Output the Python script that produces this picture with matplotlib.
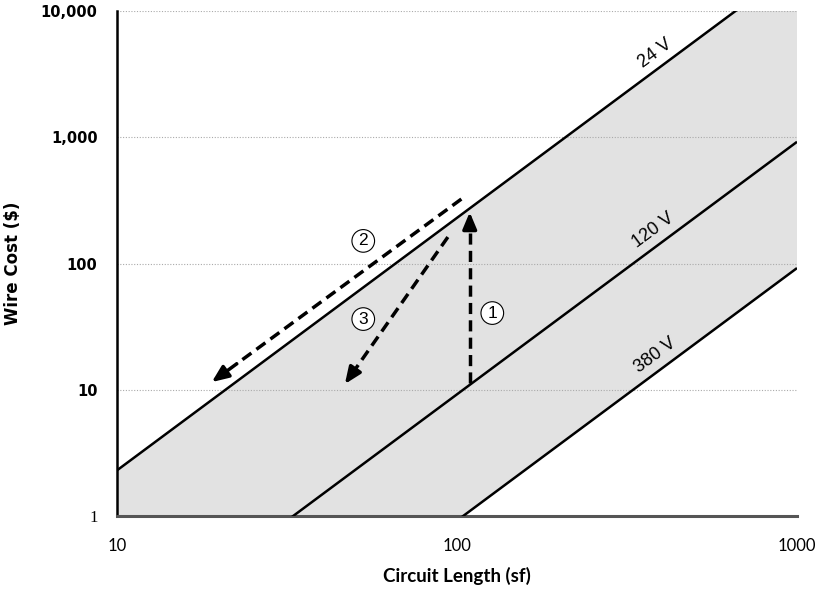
import numpy as np
import matplotlib
matplotlib.use("Agg")
import matplotlib.pyplot as plt

# circuit length ends of each line (sf) and wire cost read at those ends ($)
lengths = [10, 1000]
cost_24v = [2.3, 23000]
cost_120v = [0.092, 920]
cost_380v = [0.0092, 92]
voltage_labels = ["24 V", "120 V", "380 V"]
label_pos = [(395, 4050), (392, 163), (397, 16.6)]

# dashed arrows: (start, end) in data units
arrow_1 = [(109, 11.3), (109, 255)]
arrow_2 = [(103, 324), (19.0, 11.5)]
arrow_3 = [(94, 162), (46.8, 11.1)]
step_labels = ["1", "2", "3"]
step_pos = [(127, 40.5), (53, 151), (53, 36.3)]

yticks = [1, 10, 100, 1000, 10000]
ytick_labels = ["1", "10", "100", "1,000", "10,000"]
xticks = [10, 100, 1000]
xtick_labels = ["10", "100", "1000"]

fig = plt.figure(figsize=(8.21, 5.94), dpi=100)
ax = fig.add_axes([117/821, 1-516/594, 680/821, 505/594])
ax.set_xscale("log")
ax.set_yscale("log")
ax.set_xlim(10, 1000)
ax.set_ylim(1, 10000)

ax.fill_between(lengths, cost_380v, cost_24v, color="#e2e2e2", lw=0, zorder=1)
for ys in (cost_24v, cost_120v, cost_380v):
    ax.plot(lengths, ys, color="black", lw=1.8, zorder=3, solid_capstyle="butt")

for y in yticks[1:]:
    ax.axhline(y, color="#aaaaaa", lw=0.8, ls=(0, (1, 1.5)), zorder=2)

for txt, (x, y) in zip(voltage_labels, label_pos):
    ax.text(x, y, txt, rotation=36.5, ha="center", va="bottom", fontsize=13,
            family="Liberation Sans", rotation_mode="anchor", zorder=4)

for (x0, y0), (x1, y1) in (arrow_1, arrow_2, arrow_3):
    # dashed shaft, stopping short of the head
    t = 0.9
    xm = 10 ** (np.log10(x0) + t * (np.log10(x1) - np.log10(x0)))
    ym = 10 ** (np.log10(y0) + t * (np.log10(y1) - np.log10(y0)))
    ax.plot([x0, xm], [y0, ym], color="black", lw=2.5, ls=(0, (3.2, 1.8)), zorder=5)
    ax.annotate("", xy=(x1, y1), xytext=(xm, ym),
                arrowprops=dict(arrowstyle="-|>,head_length=1.0,head_width=0.42",
                                color="black", lw=2.5, shrinkA=0, shrinkB=0),
                zorder=5)

for txt, (x, y) in zip(step_labels, step_pos):
    ax.text(x, y, txt, ha="center", va="center", fontsize=12.5, zorder=6,
            family="Liberation Sans",
            bbox=dict(boxstyle="circle,pad=0.22", fc="white", ec="black", lw=0.8))

for s in ("top", "right"):
    ax.spines[s].set_visible(False)
ax.spines["left"].set_linewidth(1.8)
ax.spines["bottom"].set_color("#555555")
ax.spines["bottom"].set_linewidth(2.2)
ax.minorticks_off()
ax.tick_params(length=0)
ax.set_yticks(yticks)
ax.set_yticklabels(ytick_labels, fontsize=10.5, fontweight="bold")
ax.get_yticklabels()[0].set_fontfamily("Liberation Serif")
ax.get_yticklabels()[0].set_fontweight("normal")
ax.get_yticklabels()[0].set_fontsize(12)
ax.tick_params(axis="y", pad=14)
ax.set_xticks(xticks)
ax.set_xticklabels(xtick_labels, fontsize=12, family="Lato")
ax.tick_params(axis="x", pad=16)

ax.set_ylabel("Wire Cost ($)", fontsize=12, fontweight="bold")
ax.yaxis.set_label_coords(-0.14, 0.5)
ax.set_xlabel("Circuit Length (sf)", fontsize=13.5, fontweight="bold", family="Lato")
ax.xaxis.set_label_coords(0.5, -0.1)

fig.savefig("out.png", dpi=100)
